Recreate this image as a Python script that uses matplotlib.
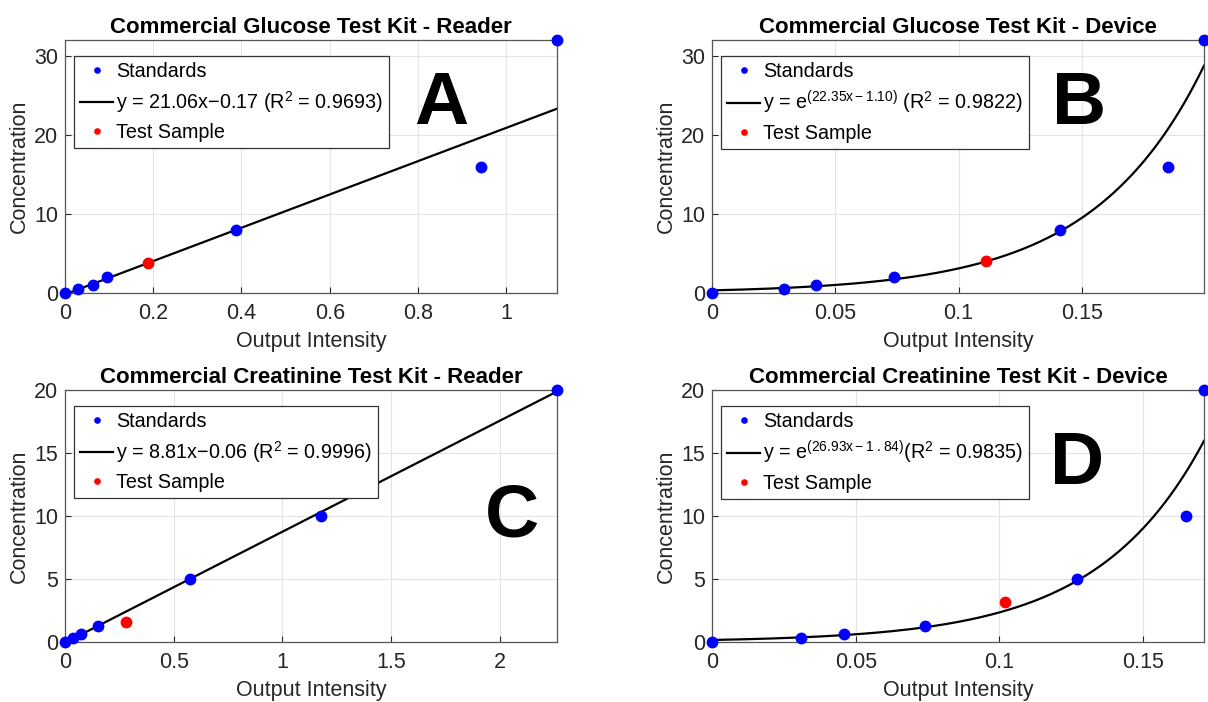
import numpy as np
import matplotlib
matplotlib.use("Agg")
import matplotlib.pyplot as plt
from matplotlib.ticker import FuncFormatter

plt.rcParams['font.family'] = ['Liberation Sans', 'DejaVu Sans']
plt.rcParams['mathtext.fontset'] = 'custom'
plt.rcParams['mathtext.rm'] = 'Liberation Sans'
plt.rcParams['mathtext.it'] = 'Liberation Sans'

# ---- data ----
titles = ["Commercial Glucose Test Kit - Reader", "Commercial Glucose Test Kit - Device",
          "Commercial Creatinine Test Kit - Reader", "Commercial Creatinine Test Kit - Device"]
letters = ["A", "B", "C", "D"]

a_x = [0, 0.03, 0.063, 0.095, 0.388, 0.942, 1.115]
a_y = [0, 0.5, 1, 2, 8, 16, 32]
a_test = (0.189, 3.8)
a_fit = (21.06, -0.17)

b_x = [0, 0.029, 0.042, 0.074, 0.141, 0.185, 0.1995]
b_y = [0, 0.5, 1, 2, 8, 16, 32]
b_test = (0.111, 4.0)
b_fit = (22.35, -1.10)

c_x = [0, 0.035, 0.072, 0.15, 0.573, 1.177, 2.263]
c_y = [0, 0.3, 0.6, 1.25, 5, 10, 20]
c_test = (0.28, 1.6)
c_fit = (8.81, -0.06)

d_x = [0, 0.031, 0.046, 0.074, 0.127, 0.165, 0.1712]
d_y = [0, 0.3, 0.6, 1.25, 5, 10, 20]
d_test = (0.102, 3.2)
d_fit = (26.93, -1.84)

fit_labels = [r"y = 21.06x$-$0.17 (R$^{\mathregular{2}}$ = 0.9693)",
              r"y = e$^{\mathregular{(22.35x-1.10)}}$ (R$^{\mathregular{2}}$ = 0.9822)",
              r"y = 8.81x$-$0.06 (R$^{\mathregular{2}}$ = 0.9996)",
              r"y = e$^{\mathregular{(26.93x-1\ .84)}}$(R$^{\mathregular{2}}$ = 0.9835)"]

xticks = [[0, 0.2, 0.4, 0.6, 0.8, 1], [0, 0.05, 0.1, 0.15],
          [0, 0.5, 1, 1.5, 2], [0, 0.05, 0.1, 0.15]]
yticks = [[0, 10, 20, 30], [0, 10, 20, 30], [0, 5, 10, 15, 20], [0, 5, 10, 15, 20]]
ymax = [32, 32, 20, 20]

panels = [(a_x, a_y, a_test, a_fit, 'lin'), (b_x, b_y, b_test, b_fit, 'exp'),
          (c_x, c_y, c_test, c_fit, 'lin'), (d_x, d_y, d_test, d_fit, 'exp')]

positions = [[0.0538, 0.5826, 0.4073, 0.3604], [0.5894, 0.5826, 0.4073, 0.3604],
             [0.0538, 0.0855, 0.4073, 0.3590], [0.5894, 0.0855, 0.4073, 0.3590]]
letter_pos = [(0.764, 0.747), (0.746, 0.747), (0.908, 0.496), (0.742, 0.706)]

fig = plt.figure(figsize=(12.08, 7.02), dpi=100)
fmt = FuncFormatter(lambda v, p: ('%g' % v))

for i, (xs, ys, test, fit, kind) in enumerate(panels):
    ax = fig.add_axes(positions[i])
    xmax = xs[-1]
    xx = np.linspace(0, xmax, 300)
    if kind == 'lin':
        yy = fit[0] * xx + fit[1]
    else:
        yy = np.exp(fit[0] * xx + fit[1])
    ax.plot(xs, ys, 'o', color='#0000ff', markersize=7.5, label='Standards', zorder=3, clip_on=False)
    ax.plot(xx, yy, '-', color='black', lw=1.6, label=fit_labels[i], zorder=2)
    ax.plot([test[0]], [test[1]], 'o', color='#ff0000', markersize=7.5, label='Test Sample', zorder=3)
    ax.set_xlim(0, xmax)
    ax.set_ylim(0, ymax[i])
    ax.set_xticks(xticks[i])
    ax.set_yticks(yticks[i])
    ax.xaxis.set_major_formatter(fmt)
    ax.yaxis.set_major_formatter(fmt)
    ax.grid(True, color='#e3e3e3', lw=0.8)
    ax.set_axisbelow(True)
    for s in ax.spines.values():
        s.set_color('#555555')
        s.set_linewidth(0.9)
    ax.tick_params(direction='in', length=4, labelsize=15.5, colors='#262626', pad=5)
    ax.tick_params(axis='x', pad=7)
    ax.set_xlabel('Output Intensity', fontsize=15.5, color='#262626', labelpad=5)
    ax.set_ylabel('Concentration', fontsize=15.5, color='#262626', labelpad=3)
    ax.set_title(titles[i], fontsize=16, fontweight='bold', pad=5)
    h, l = ax.get_legend_handles_labels()
    leg = ax.legend(h, l, loc='upper left', bbox_to_anchor=(0.018, 0.935), fontsize=14.2,
                    frameon=True, fancybox=False, edgecolor='#333333', framealpha=1,
                    markerscale=0.5, handlelength=1.7, handletextpad=0.15,
                    borderpad=0.3, labelspacing=0.4, borderaxespad=0)
    leg.get_frame().set_linewidth(0.9)
    ax.text(letter_pos[i][0], letter_pos[i][1], letters[i], transform=ax.transAxes,
            fontsize=54, fontweight='bold', ha='center', va='center')

fig.savefig('out.png', dpi=100)
